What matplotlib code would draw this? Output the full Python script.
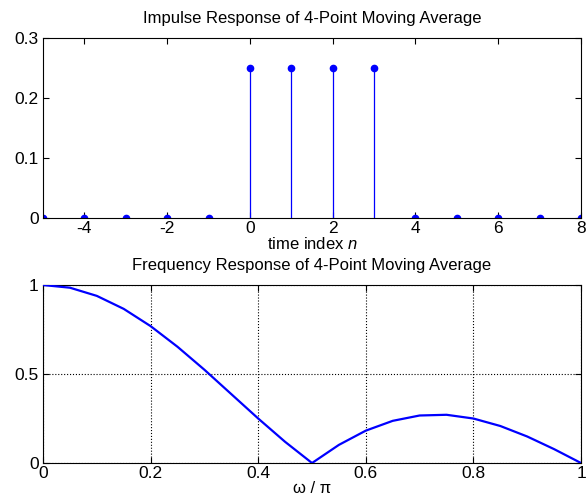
import matplotlib.pyplot as plt
import numpy as np

plt.rcParams.update({"font.family": ["Liberation Sans", "DejaVu Sans"],
                     "font.size": 12, "mathtext.fontset": "custom",
                     "mathtext.it": "Liberation Sans:italic",
                     "axes.unicode_minus": False})

# impulse response h[n] of the 4-point moving average
n = [-5, -4, -3, -2, -1, 0, 1, 2, 3, 4, 5, 6, 7, 8]
h = [0, 0, 0, 0, 0, 0.25, 0.25, 0.25, 0.25, 0, 0, 0, 0, 0]

# magnitude response
w_norm = [0, 0.05, 0.1, 0.15, 0.2, 0.25, 0.3, 0.35, 0.4, 0.45, 0.5,
          0.55, 0.6, 0.65, 0.7, 0.75, 0.8, 0.85, 0.9, 0.95, 1.0]
mag = [1.0, 0.985, 0.939, 0.866, 0.769, 0.653, 0.524, 0.387, 0.25, 0.119, 0.0,
       0.102, 0.182, 0.237, 0.267, 0.271, 0.25, 0.208, 0.149, 0.078, 0.0]

fig = plt.figure(figsize=(5.87, 4.99), dpi=100)
ax1 = fig.add_axes([0.0733, 0.5631, 0.9165, 0.3607])
ax2 = fig.add_axes([0.0733, 0.0721, 0.9165, 0.3567])

ml, sl, bl = ax1.stem(n, h, linefmt="-", markerfmt="o", basefmt=" ")
plt.setp(sl, color="#0000ff", lw=0.9)
plt.setp(ml, color="#0000ff", markersize=4.5)
ax1.set_xlim(-5, 8)
ax1.set_ylim(0, 0.3)
ax1.set_xticks([-4, -2, 0, 2, 4, 6, 8])
ax1.set_yticks([0, 0.1, 0.2, 0.3])
ax1.set_yticklabels(["0", "0.1", "0.2", "0.3"])
ax1.set_title("Impulse Response of 4-Point Moving Average", fontsize=12, pad=10.5)
ax1.set_xlabel("time index $n$", fontsize=12, labelpad=0)

ax2.plot(w_norm, mag, color="#0000ff", lw=1.6, zorder=3)
ax2.set_xlim(0, 1)
ax2.set_ylim(0, 1)
ax2.set_xticks([0, 0.2, 0.4, 0.6, 0.8, 1])
ax2.set_xticklabels(["0", "0.2", "0.4", "0.6", "0.8", "1"])
ax2.set_yticks([0, 0.5, 1])
ax2.set_yticklabels(["0", "0.5", "1"])
ax2.grid(True, color="black", ls=":", lw=0.8)
ax2.set_title("Frequency Response of 4-Point Moving Average", fontsize=12, pad=11)
ax2.set_xlabel("ω / π", fontsize=12, labelpad=0)

for ax in (ax1, ax2):
    ax.tick_params(direction="in", top=True, right=True, length=4, width=0.8,
                   labelsize=12.5)
    ax.tick_params(axis="x", pad=2.2)
    ax.tick_params(axis="y", pad=3)
    for s in ax.spines.values():
        s.set_linewidth(0.8)

fig.savefig("out.png", dpi=100)
